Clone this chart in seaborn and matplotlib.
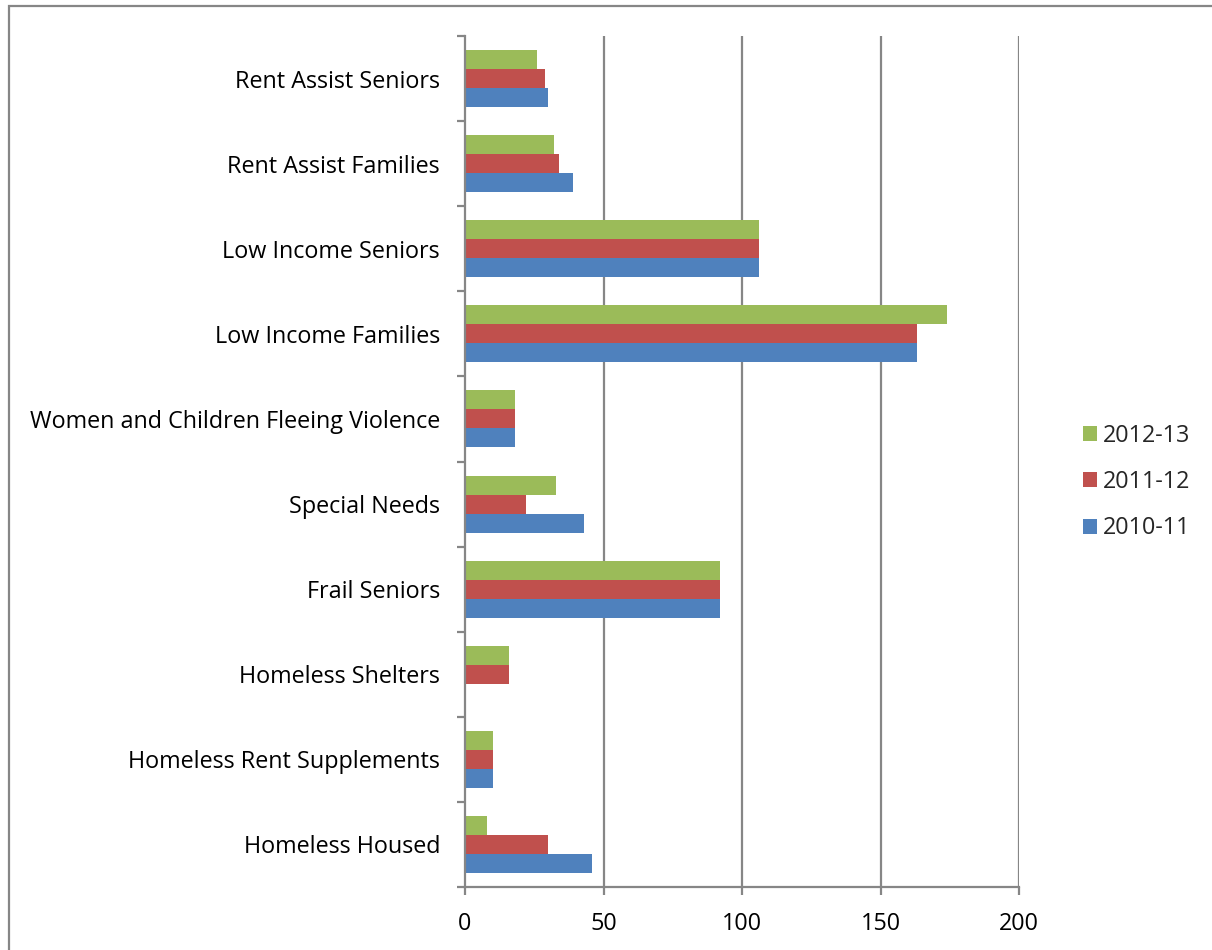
import matplotlib
matplotlib.use("Agg")
import matplotlib.pyplot as plt
import seaborn as sns
import pandas as pd
from matplotlib.patches import Rectangle
from matplotlib.ticker import FixedLocator

# Housing programme counts by category and fiscal year
categories = [
    "Rent Assist Seniors",
    "Rent Assist Families",
    "Low Income Seniors",
    "Low Income Families",
    "Women and Children Fleeing Violence",
    "Special Needs",
    "Frail Seniors",
    "Homeless Shelters",
    "Homeless Rent Supplements",
    "Homeless Housed",
]
years = ["2012-13", "2011-12", "2010-11"]
values_2012_13 = [26, 32, 106, 174, 18, 33, 92, 16, 10, 8]
values_2011_12 = [29, 34, 106, 163, 18, 22, 92, 16, 10, 30]
values_2010_11 = [30, 39, 106, 163, 18, 43, 92, 0, 10, 46]
colors = ["#9BBB59", "#C0504D", "#4F81BD"]
x_ticks = [0, 50, 100, 150, 200]

rows = []
for year, vals in zip(years, [values_2012_13, values_2011_12, values_2010_11]):
    for cat, v in zip(categories, vals):
        rows.append({"category": cat, "year": year, "value": v})
df = pd.DataFrame(rows)

sns.set_style("white")
plt.rcParams["font.family"] = ["Open Sans", "DejaVu Sans"]
fs = 16.8

fig = plt.figure(figsize=(12.12, 9.5), dpi=100)
ax = fig.add_axes([465 / 1212, 1 - 887 / 950, (1019 - 465) / 1212, (887 - 36) / 950])

sns.barplot(
    data=df, y="category", x="value", hue="year",
    order=categories, hue_order=years, palette=colors,
    orient="h", width=0.67, saturation=1, ax=ax, legend=True,
    edgecolor="none", linewidth=0,
)

grid_color = "#868686"
ax.set_xlim(0, 200)
ax.set_ylim(len(categories) - 0.5, -0.5)
ax.set_xticks(x_ticks)
ax.set_xticklabels([str(t) for t in x_ticks])
for t in x_ticks[1:]:
    ax.axvline(t, color=grid_color, lw=1.6, zorder=0)

ax.set_xlabel("")
ax.set_ylabel("")
for side in ["top", "right"]:
    ax.spines[side].set_visible(False)
for side in ["left", "bottom"]:
    ax.spines[side].set_color(grid_color)
    ax.spines[side].set_linewidth(1.6)

ax.tick_params(axis="y", which="major", length=0, pad=18, labelsize=fs, labelcolor="black")
ax.yaxis.set_minor_locator(FixedLocator([i - 0.5 for i in range(len(categories) + 1)]))
ax.tick_params(axis="y", which="minor", length=6, width=1.6, color=grid_color, left=True)
ax.tick_params(axis="x", which="major", length=6, width=1.6, color=grid_color, bottom=True,
               pad=12, labelsize=fs, labelcolor="black")

handles, labels = ax.get_legend_handles_labels()
ax.legend(handles, labels, loc="center left", bbox_to_anchor=(1083 / 1212, 1 - 482 / 950),
          bbox_transform=fig.transFigure, frameon=False, fontsize=fs,
          borderaxespad=0, borderpad=0,
          handlelength=0.6, handleheight=0.6, handletextpad=0.26, labelspacing=0.96)

fig.patches.append(Rectangle((9 / 1212, -0.1), 1.2, (1 - 6 / 950) + 0.1,
                             transform=fig.transFigure, fill=False,
                             edgecolor="#868686", lw=1.6))

fig.savefig("out.png", dpi=100)
